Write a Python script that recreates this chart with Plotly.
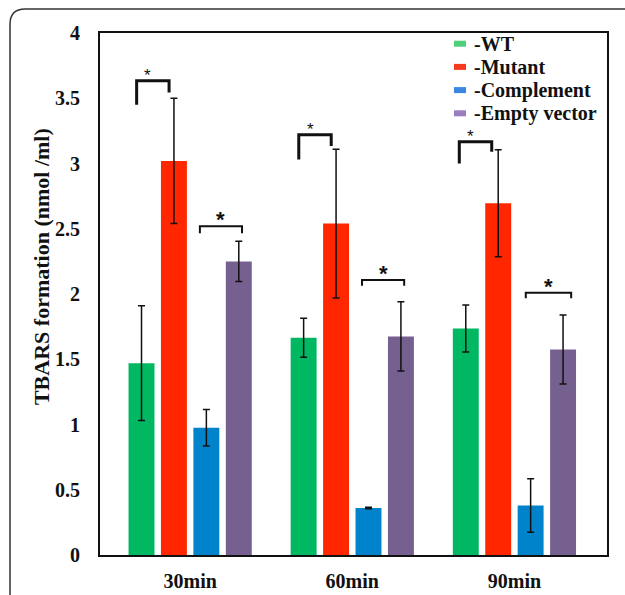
import plotly.graph_objects as go

categories = ["30min", "60min", "90min"]
series_names = ["-WT", "-Mutant", "-Complement", "-Empty vector"]
colors = ["#00B862", "#FF2600", "#0083CB", "#75608F"]
legend_colors = ["#4FCF78", "#F53A1E", "#3A86E0", "#9A7EC0"]

wt = [1.47, 1.665, 1.735]
wt_err = [0.44, 0.15, 0.18]
mutant = [3.02, 2.54, 2.695]
mutant_err = [0.48, 0.57, 0.41]
complement = [0.975, 0.36, 0.38]
complement_err = [0.14, 0.005, 0.205]
empty = [2.25, 1.675, 1.575]
empty_err = [0.155, 0.265, 0.265]

values = [wt, mutant, complement, empty]
errors = [wt_err, mutant_err, complement_err, empty_err]

y_ticks = [0, 0.5, 1, 1.5, 2, 2.5, 3, 3.5, 4]
y_tick_text = ["0", "0.5", "1", "1.5", "2", "2.5", "3", "3.5", "4"]

# significance brackets: (group, left offset, right offset, top, left bottom, right bottom, style)
brackets = [
    (0, -0.33, -0.13, 3.635, 3.45, 3.545, "thick"),
    (0, 0.06, 0.32, 2.52, 2.465, 2.465, "thin"),
    (1, -0.33, -0.13, 3.22, 3.03, 3.135, "thick"),
    (1, 0.06, 0.32, 2.107, 2.064, 2.064, "thin"),
    (2, -0.34, -0.14, 3.167, 3.0, 3.09, "thick"),
    (2, 0.07, 0.35, 2.01, 1.967, 1.967, "thin"),
]

serif = "Liberation Serif, Times New Roman, serif"
xs = list(range(len(categories)))

fig = go.Figure()
for name, vals, errs, col in zip(series_names, values, errors, colors):
    fig.add_trace(go.Bar(
        x=xs, y=vals, name=name, showlegend=False,
        marker=dict(color=col, line=dict(width=0)),
        error_y=dict(type="data", array=errs, visible=True,
                     color="#111111", thickness=1.5, width=3.5),
    ))

shapes = []
annotations = []
for g, lo, ro, top, lb, rb, style in brackets:
    x0, x1 = g + lo, g + ro
    lw = 3 if style == "thick" else 2
    shapes.append(dict(type="path", xref="x", yref="y",
                       path=f"M {x0},{lb} L {x0},{top} L {x1},{top} L {x1},{rb}",
                       line=dict(color="#111111", width=lw)))
    if style == "thick":
        annotations.append(dict(x=(x0 + x1) / 2 - 0.03, y=top, xref="x", yref="y",
                                text="*", showarrow=False, yanchor="bottom", yshift=-6,
                                font=dict(family="Liberation Sans, Arial", size=17, color="#111111")))
    else:
        annotations.append(dict(x=(x0 + x1) / 2, y=top, xref="x", yref="y",
                                text="<b>*</b>", showarrow=False, yanchor="bottom", yshift=-8,
                                font=dict(family="Liberation Sans, Arial", size=22, color="#111111")))

# legend drawn in paper coordinates (plot area 507 x 522 px)
pw, ph = 507.0, 522.0
leg_x0 = (454 - 100) / pw
leg_sw = 12 / pw
leg_sh = 6 / ph
leg_txt_x = (472 - 100) / pw
leg_y_top = (555 - 43.7) / ph
leg_step = 23.2 / ph
for i, (name, col) in enumerate(zip(series_names, legend_colors)):
    yc = leg_y_top - i * leg_step
    shapes.append(dict(type="rect", xref="paper", yref="paper",
                       x0=leg_x0, x1=leg_x0 + leg_sw, y0=yc - leg_sh / 2, y1=yc + leg_sh / 2,
                       fillcolor=col, line=dict(width=0)))
    annotations.append(dict(x=leg_txt_x, y=yc, xref="paper", yref="paper",
                            xanchor="left", yanchor="middle", text=name, showarrow=False,
                            font=dict(family=serif, size=20, color="#111111", weight="bold")))

# outer rounded frame
lx, ty, rx, ry = -0.1775, 1.046, 0.03, 0.029
shapes.append(dict(type="path", xref="paper", yref="paper",
                   path=f"M {lx},-0.3 L {lx},{ty - ry} Q {lx},{ty} {lx + rx},{ty} L 1.2,{ty}",
                   line=dict(color="#333333", width=1.5)))

annotations.append(dict(x=-0.114, y=0.552, xref="paper", yref="paper",
                        xanchor="center", yanchor="middle",
                        text="TBARS formation (nmol /ml)", textangle=-90, showarrow=False,
                        font=dict(family=serif, size=22, color="#111111", weight="bold")))

fig.update_layout(
    width=625, height=595,
    margin=dict(l=100, r=18, t=33, b=40, autoexpand=False),
    paper_bgcolor="white", plot_bgcolor="white",
    barmode="group", bargap=0.2, bargroupgap=0.2,
    showlegend=False,
    xaxis=dict(range=[-0.556, 2.571], tickvals=xs, ticktext=categories, automargin=False,
               showline=True, mirror=True, linecolor="#111111", linewidth=2,
               ticks="", showgrid=False, zeroline=False, ticklabelstandoff=7,
               tickfont=dict(family=serif, size=20, color="#111111", weight="bold")),
    yaxis=dict(range=[0, 4], tickvals=y_ticks, ticktext=y_tick_text, automargin=False,
               showline=True, mirror=True, linecolor="#111111", linewidth=2,
               ticks="", showgrid=False, zeroline=False, ticklabelstandoff=14,
               tickfont=dict(family=serif, size=20, color="#111111", weight="bold")),
    shapes=shapes, annotations=annotations,
)

fig.write_html("out.html")
